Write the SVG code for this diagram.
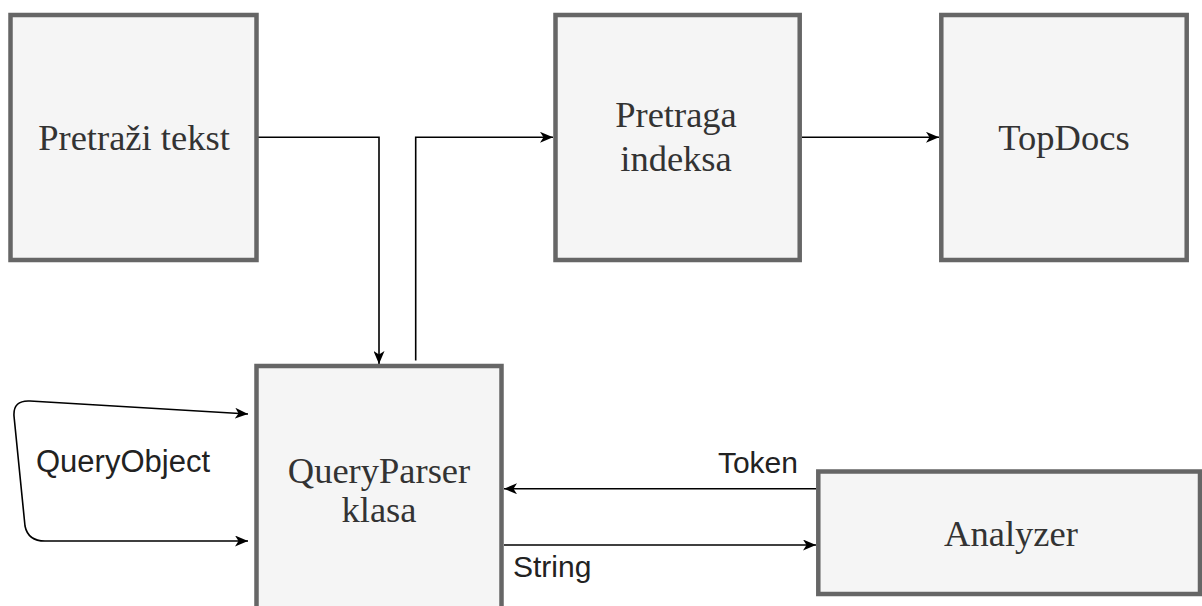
<svg xmlns="http://www.w3.org/2000/svg" width="1202" height="606" viewBox="0 0 1202 606">
<style>
.box{fill:#f5f5f5;stroke:#666666;stroke-width:4.5}
.nt{font-family:"Liberation Serif","Times New Roman",serif;font-size:36.5px;fill:#333333;text-anchor:middle}
.edge{fill:none;stroke:#000000;stroke-width:1.6}
.lbl{font-family:"Liberation Sans",Arial,sans-serif;font-size:30px;fill:#222222}
</style>
<defs>
<marker id="arr" markerUnits="userSpaceOnUse" viewBox="0 0 13 11" refX="13" refY="5.5" markerWidth="13" markerHeight="11" orient="auto-start-reverse">
<path d="M0,0 L13,5.5 L0,11 L3.5,5.5 Z" fill="#000000"/>
</marker>
</defs>
<rect width="1202" height="606" fill="#ffffff"/>
<g id="connectors">
<path class="edge" d="M258 137.3 H379 V364" marker-end="url(#arr)"/>
<path class="edge" d="M415.7 360.5 V137.3 H553" marker-end="url(#arr)"/>
<path class="edge" d="M802 137.3 H939" marker-end="url(#arr)"/>
<path class="edge" d="M816 488.7 H504" marker-end="url(#arr)"/>
<path class="edge" d="M504 545 H816" marker-end="url(#arr)"/>
<path class="edge" d="M248 414 L30 401 Q13 400 14 416 L25 526 Q28 541 45 541 L248 541" marker-start="url(#arr)" marker-end="url(#arr)"/>
<text class="lbl" x="798" y="473" text-anchor="end">Token</text>
<text class="lbl" x="513" y="577">String</text>
<text class="lbl" x="36" y="472" style="font-size:31px">QueryObject</text>
</g>
<g id="pretrazi-tekst">
<rect class="box" x="10.5" y="15" width="246" height="245"/>
<text class="nt" x="134" y="150">Pretraži tekst</text>
</g>
<g id="pretraga-indeksa">
<rect class="box" x="555.5" y="15" width="244.2" height="245"/>
<text class="nt" x="676" y="127">Pretraga</text>
<text class="nt" x="676" y="171">indeksa</text>
</g>
<g id="topdocs">
<rect class="box" x="941.3" y="15" width="245.4" height="245"/>
<text class="nt" x="1064" y="150">TopDocs</text>
</g>
<g id="queryparser">
<rect class="box" x="256.5" y="366" width="245" height="260"/>
<text class="nt" x="379" y="483">QueryParser</text>
<text class="nt" x="379" y="522">klasa</text>
</g>
<g id="analyzer">
<rect class="box" x="818.3" y="471.5" width="381.7" height="122.5"/>
<text class="nt" x="1011" y="545.5">Analyzer</text>
</g>
</svg>
